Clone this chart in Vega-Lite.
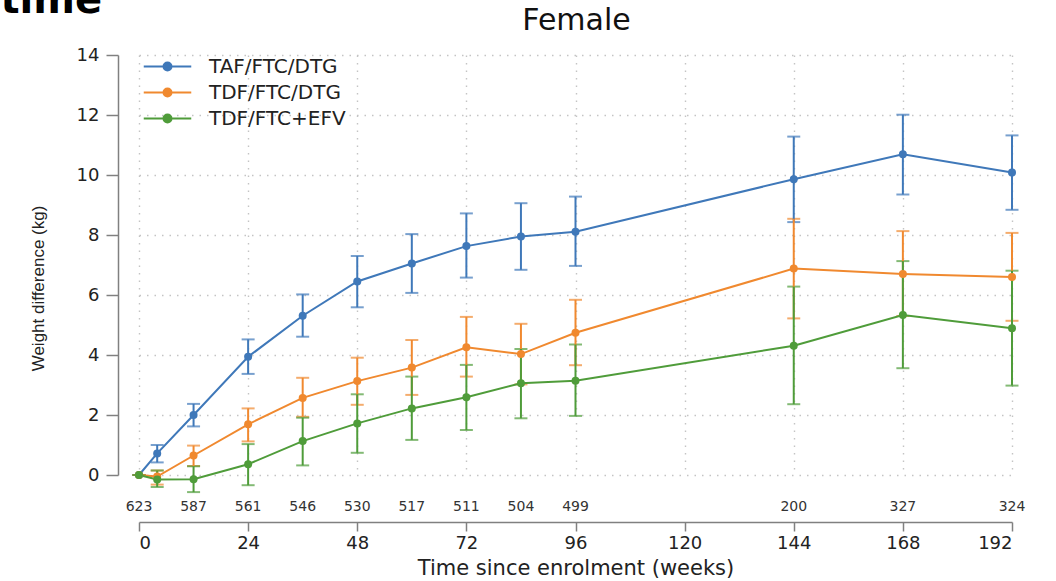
{
  "$schema": "https://vega.github.io/schema/vega-lite/v6.json",
  "width": 873,
  "height": 420,
  "autosize": {"type": "none"},
  "padding": {"left": 139, "top": 55, "right": 44, "bottom": 106},
  "background": "white",
  "datasets": {
    "est": [
      {"regimen": "TAF/FTC/DTG", "week": 0, "mean": 0, "lo": 0, "hi": 0},
      {"regimen": "TAF/FTC/DTG", "week": 4, "mean": 0.72, "lo": 0.42, "hi": 1.0},
      {"regimen": "TAF/FTC/DTG", "week": 12, "mean": 2.0, "lo": 1.62, "hi": 2.37},
      {"regimen": "TAF/FTC/DTG", "week": 24, "mean": 3.94, "lo": 3.37, "hi": 4.52},
      {"regimen": "TAF/FTC/DTG", "week": 36, "mean": 5.31, "lo": 4.61, "hi": 6.02},
      {"regimen": "TAF/FTC/DTG", "week": 48, "mean": 6.45, "lo": 5.59, "hi": 7.3},
      {"regimen": "TAF/FTC/DTG", "week": 60, "mean": 7.05, "lo": 6.07, "hi": 8.03},
      {"regimen": "TAF/FTC/DTG", "week": 72, "mean": 7.63, "lo": 6.58, "hi": 8.72},
      {"regimen": "TAF/FTC/DTG", "week": 84, "mean": 7.95, "lo": 6.84, "hi": 9.06},
      {"regimen": "TAF/FTC/DTG", "week": 96, "mean": 8.11, "lo": 6.97, "hi": 9.28},
      {"regimen": "TAF/FTC/DTG", "week": 144, "mean": 9.86, "lo": 8.43, "hi": 11.28},
      {"regimen": "TAF/FTC/DTG", "week": 168, "mean": 10.69, "lo": 9.35, "hi": 12.01},
      {"regimen": "TAF/FTC/DTG", "week": 192, "mean": 10.08, "lo": 8.84, "hi": 11.32},
      {"regimen": "TDF/FTC/DTG", "week": 0, "mean": 0, "lo": 0, "hi": 0},
      {"regimen": "TDF/FTC/DTG", "week": 4, "mean": -0.05, "lo": -0.32, "hi": 0.15},
      {"regimen": "TDF/FTC/DTG", "week": 12, "mean": 0.65, "lo": 0.3, "hi": 0.98},
      {"regimen": "TDF/FTC/DTG", "week": 24, "mean": 1.69, "lo": 1.12, "hi": 2.22},
      {"regimen": "TDF/FTC/DTG", "week": 36, "mean": 2.57, "lo": 1.94, "hi": 3.24},
      {"regimen": "TDF/FTC/DTG", "week": 48, "mean": 3.13, "lo": 2.34, "hi": 3.91},
      {"regimen": "TDF/FTC/DTG", "week": 60, "mean": 3.58, "lo": 2.67, "hi": 4.5},
      {"regimen": "TDF/FTC/DTG", "week": 72, "mean": 4.26, "lo": 3.28, "hi": 5.27},
      {"regimen": "TDF/FTC/DTG", "week": 84, "mean": 4.03, "lo": 3.02, "hi": 5.04},
      {"regimen": "TDF/FTC/DTG", "week": 96, "mean": 4.74, "lo": 3.66, "hi": 5.84},
      {"regimen": "TDF/FTC/DTG", "week": 144, "mean": 6.88, "lo": 5.22, "hi": 8.54},
      {"regimen": "TDF/FTC/DTG", "week": 168, "mean": 6.7, "lo": 5.3, "hi": 8.13},
      {"regimen": "TDF/FTC/DTG", "week": 192, "mean": 6.6, "lo": 5.14, "hi": 8.07},
      {"regimen": "TDF/FTC+EFV", "week": 0, "mean": 0, "lo": 0, "hi": 0},
      {"regimen": "TDF/FTC+EFV", "week": 4, "mean": -0.15, "lo": -0.4, "hi": 0.15},
      {"regimen": "TDF/FTC+EFV", "week": 12, "mean": -0.14, "lo": -0.57, "hi": 0.29},
      {"regimen": "TDF/FTC+EFV", "week": 24, "mean": 0.36, "lo": -0.34, "hi": 1.03},
      {"regimen": "TDF/FTC+EFV", "week": 36, "mean": 1.13, "lo": 0.32, "hi": 1.91},
      {"regimen": "TDF/FTC+EFV", "week": 48, "mean": 1.72, "lo": 0.74, "hi": 2.69},
      {"regimen": "TDF/FTC+EFV", "week": 60, "mean": 2.22, "lo": 1.17, "hi": 3.28},
      {"regimen": "TDF/FTC+EFV", "week": 72, "mean": 2.59, "lo": 1.5, "hi": 3.67},
      {"regimen": "TDF/FTC+EFV", "week": 84, "mean": 3.06, "lo": 1.89, "hi": 4.2},
      {"regimen": "TDF/FTC+EFV", "week": 96, "mean": 3.14, "lo": 1.97, "hi": 4.35},
      {"regimen": "TDF/FTC+EFV", "week": 144, "mean": 4.31, "lo": 2.36, "hi": 6.28},
      {"regimen": "TDF/FTC+EFV", "week": 168, "mean": 5.33, "lo": 3.56, "hi": 7.13},
      {"regimen": "TDF/FTC+EFV", "week": 192, "mean": 4.89, "lo": 2.98, "hi": 6.81}
    ],
    "counts": [
      {"week": 0, "n": "623"},
      {"week": 12, "n": "587"},
      {"week": 24, "n": "561"},
      {"week": 36, "n": "546"},
      {"week": 48, "n": "530"},
      {"week": 60, "n": "517"},
      {"week": 72, "n": "511"},
      {"week": 84, "n": "504"},
      {"week": 96, "n": "499"},
      {"week": 144, "n": "200"},
      {"week": 168, "n": "327"},
      {"week": 192, "n": "324"}
    ]
  },
  "config": {
    "view": {"stroke": null},
    "font": "DejaVu Sans",
    "axis": {
      "gridColor": "#c4c4c4",
      "gridDash": [1.5, 6],
      "gridWidth": 1.4,
      "domainColor": "#808080",
      "tickColor": "#808080",
      "domainWidth": 1.5,
      "tickWidth": 1.5,
      "labelColor": "#222222",
      "titleColor": "#222222",
      "labelFont": "DejaVu Sans",
      "titleFont": "DejaVu Sans",
      "titleFontWeight": "normal"
    }
  },
  "layer": [
    {
      "data": {"name": "est"},
      "layer": [
        {
          "mark": {"type": "errorbar", "ticks": {"size": 13, "thickness": 2}, "rule": {"strokeWidth": 2}},
          "encoding": {
            "x": {
              "field": "week", "type": "quantitative",
              "scale": {"domain": [0, 192], "nice": false, "zero": false},
              "axis": {"orient": "bottom", "title": "Time since enrolment (weeks)", "values": [0, 24, 48, 72, 96, 120, 144, 168, 192], "offset": 47, "tickSize": 9, "labelPadding": 3, "labelFontSize": 18, "grid": true, "titleFontSize": 21, "titlePadding": 5}
            },
            "y": {
              "field": "lo", "type": "quantitative",
              "scale": {"domain": [0, 14], "nice": false},
              "axis": {"orient": "left", "title": "Weight difference (kg)", "values": [0, 2, 4, 6, 8, 10, 12, 14], "offset": 21, "tickSize": 12, "labelPadding": 7, "labelFontSize": 18, "grid": true, "titleFont": "Liberation Sans", "titleFontSize": 17, "titleX": -80, "titleY": 233, "titleAngle": -90, "titleBaseline": "middle", "titleAlign": "center"}
            },
            "y2": {"field": "hi"},
            "color": {
              "field": "regimen", "type": "nominal",
              "scale": {"domain": ["TAF/FTC/DTG", "TDF/FTC/DTG", "TDF/FTC+EFV"], "range": ["#3f78b9", "#f0892f", "#4f9c3a"]},
              "legend": {
                "orient": "none", "legendX": 18, "legendY": 1, "title": null,
                "symbolType": "M-2.5,0H2.5M0.42,0A0.42,0.42,0,1,1,-0.42,0A0.42,0.42,0,1,1,0.42,0Z",
                "symbolSize": 361, "symbolStrokeWidth": 2,
                "labelFontSize": 20, "labelFont": "DejaVu Sans", "labelColor": "#222222",
                "labelOffset": 31, "rowPadding": 5, "padding": 0,
                "encode": {"symbols": {"update": {"fill": {"scale": "color", "field": "value"}, "stroke": {"scale": "color", "field": "value"}, "opacity": {"value": 1}}}}
              }
            }
          }
        },
        {
          "mark": {"type": "line", "strokeWidth": 2},
          "encoding": {
            "x": {"field": "week", "type": "quantitative"},
            "y": {"field": "mean", "type": "quantitative", "title": "Weight difference (kg)"},
            "color": {"field": "regimen", "type": "nominal"}
          }
        },
        {
          "mark": {"type": "point", "filled": true, "size": 64, "opacity": 1},
          "encoding": {
            "x": {"field": "week", "type": "quantitative"},
            "y": {"field": "mean", "type": "quantitative", "title": "Weight difference (kg)"},
            "color": {"field": "regimen", "type": "nominal"}
          }
        }
      ]
    },
    {
      "data": {"name": "counts"},
      "mark": {"type": "text", "fontSize": 14, "color": "#333333", "baseline": "middle", "font": "DejaVu Sans"},
      "encoding": {
        "x": {
          "field": "week", "type": "quantitative",
          "scale": {"domain": [0, 192], "nice": false, "zero": false},
          "axis": {"orient": "top", "title": "Female", "labels": false, "ticks": false, "domain": false, "grid": false, "titleFontSize": 30, "titleFontWeight": "normal", "titleFont": "DejaVu Sans", "titleColor": "#111111", "titleX": 437, "titleY": -26, "titleAlign": "center", "titleBaseline": "alphabetic", "titleAngle": 0}
        },
        "y": {
          "datum": -1.05, "type": "quantitative",
          "scale": {"domain": [0, 14], "nice": false, "zero": false},
          "axis": {"orient": "right", "title": "time", "labels": false, "ticks": false, "domain": false, "grid": false, "titleFontSize": 40, "titleFontWeight": "bold", "titleFont": "DejaVu Sans", "titleColor": "#000000", "titleX": -1012, "titleY": -43, "titleAlign": "left", "titleBaseline": "alphabetic", "titleAngle": 0}
        },
        "text": {"field": "n"}
      }
    }
  ],
  "resolve": {"axis": {"x": "independent", "y": "independent"}, "scale": {"y": "independent", "x": "independent"}}
}
